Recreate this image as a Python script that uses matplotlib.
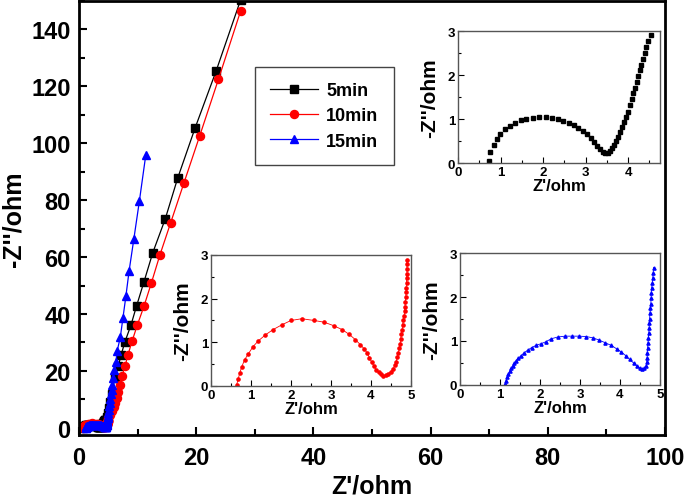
import matplotlib
matplotlib.use("Agg")
from matplotlib import pyplot as plt
from matplotlib.ticker import MultipleLocator

plt.rcParams['font.family'] = ['Liberation Sans', 'DejaVu Sans']
plt.rcParams['font.weight'] = 'bold'
plt.rcParams['axes.labelweight'] = 'bold'

# 5 min: Z' (ohm), -Z'' (ohm)
z_re_5 = [0.72, 0.76, 0.84, 0.92, 0.98, 1.10, 1.22, 1.34, 1.47, 1.61, 1.76, 1.91, 2.06, 2.20,
          2.34, 2.48, 2.61, 2.72, 2.83, 2.94, 3.03, 3.13, 3.20, 3.28, 3.35, 3.40, 3.46, 3.52,
          3.58, 3.63, 3.67, 3.71, 3.76, 3.80, 3.85, 3.90, 3.94, 3.99, 4.04, 4.08, 4.12, 4.16,
          4.20, 4.24, 4.28, 4.31, 4.35, 4.39, 4.43, 4.47, 4.53,
          4.70, 4.90, 5.10, 5.35, 5.60, 6.10, 6.70, 7.20, 7.85, 8.85, 9.85, 11.1, 12.6, 14.7,
          16.85, 19.8, 23.4, 27.6]
z_im_5 = [0.05, 0.25, 0.40, 0.55, 0.67, 0.77, 0.84, 0.92, 0.97, 1.01, 1.03, 1.04, 1.04, 1.02,
          0.99, 0.95, 0.91, 0.86, 0.80, 0.73, 0.65, 0.57, 0.48, 0.39, 0.31, 0.25, 0.23, 0.23,
          0.27, 0.33, 0.40, 0.49, 0.60, 0.70, 0.82, 0.93, 1.05, 1.17, 1.31, 1.45, 1.58, 1.70,
          1.84, 1.97, 2.11, 2.23, 2.37, 2.50, 2.63, 2.77, 2.91,
          3.9, 5.3, 7.0, 9.2, 12.0, 17.5, 21.7, 25.7, 30.3, 36.0, 43.0, 51.4, 61.6, 73.3,
          87.8, 105.3, 125.4, 150.5]

# 10 min
z_re_10 = [0.64, 0.68, 0.72, 0.77, 0.84, 0.93, 1.05, 1.18, 1.36, 1.55, 1.77, 2.00, 2.27, 2.58,
           2.83, 3.07, 3.28, 3.46, 3.61, 3.73, 3.83, 3.91, 3.96, 4.02, 4.08, 4.13, 4.19, 4.25,
           4.31, 4.37, 4.43, 4.50, 4.56, 4.60, 4.63, 4.66, 4.68, 4.71, 4.73, 4.74, 4.76, 4.78,
           4.79, 4.81, 4.83, 4.84, 4.85, 4.86, 4.87, 4.88, 4.88, 4.89, 4.89, 4.90, 4.90, 4.90,
           4.90,
           5.00, 5.30, 5.60, 5.90, 6.20, 6.45, 6.70, 6.95, 7.30, 7.85, 8.35, 9.05, 9.95, 11.1,
           12.35, 13.8, 15.65, 17.9, 20.6, 23.8, 27.6]
z_im_10 = [0.02, 0.16, 0.30, 0.44, 0.60, 0.73, 0.90, 1.03, 1.17, 1.29, 1.40, 1.50, 1.54, 1.50,
           1.46, 1.38, 1.29, 1.18, 1.06, 0.95, 0.85, 0.75, 0.65, 0.54, 0.45, 0.37, 0.31, 0.27,
           0.24, 0.25, 0.28, 0.33, 0.40, 0.49, 0.56, 0.66, 0.76, 0.86, 0.97, 1.08, 1.18, 1.29,
           1.40, 1.50, 1.61, 1.72, 1.82, 1.93, 2.04, 2.15, 2.25, 2.36, 2.47, 2.57, 2.68, 2.79,
           2.89,
           3.6, 4.6, 5.8, 7.2, 8.8, 10.6, 12.6, 15.0, 18.1, 21.6, 25.6, 30.4, 36.1, 42.8,
           50.9, 60.7, 72.1, 86.0, 102.6, 122.5, 146.6]

# 15 min
z_re_15 = [1.13, 1.15, 1.18, 1.21, 1.24, 1.28, 1.32, 1.36, 1.40, 1.46, 1.53, 1.60, 1.69, 1.79,
           1.90, 2.03, 2.14, 2.28, 2.44, 2.63, 2.81, 2.98, 3.16, 3.33, 3.48, 3.63, 3.78, 3.92,
           4.03, 4.14, 4.24, 4.34, 4.43, 4.50, 4.56, 4.61, 4.65, 4.67, 4.68, 4.68, 4.69, 4.70,
           4.71, 4.72, 4.73, 4.73, 4.74, 4.75, 4.76, 4.77, 4.78, 4.78, 4.79, 4.81, 4.82, 4.83,
           4.84,
           4.88, 4.93, 5.00, 5.07, 5.15, 5.25, 5.35, 5.45, 5.55, 5.65, 5.80, 6.05, 6.30, 6.50,
           7.05, 7.50, 8.00, 8.55, 9.35, 10.3, 11.4]
z_im_15 = [0.02, 0.10, 0.18, 0.24, 0.31, 0.38, 0.44, 0.50, 0.55, 0.61, 0.67, 0.73, 0.79, 0.85,
           0.90, 0.94, 0.98, 1.05, 1.09, 1.11, 1.11, 1.11, 1.10, 1.07, 1.02, 0.96, 0.90, 0.82,
           0.75, 0.67, 0.58, 0.50, 0.43, 0.38, 0.37, 0.38, 0.43, 0.52, 0.62, 0.73, 0.84, 0.95,
           1.07, 1.18, 1.30, 1.40, 1.51, 1.63, 1.74, 1.85, 1.97, 2.08, 2.20, 2.31, 2.43, 2.54,
           2.67,
           3.4, 4.3, 5.3, 6.4, 7.6, 8.9, 10.3, 11.8, 13.4, 15.2, 17.5, 20.2, 23.0, 26.9,
           31.8, 38.6, 46.2, 55.1, 66.2, 79.6, 95.9]

labels = ['5min', '10min', '15min']
colors = ['black', '#ff0000', '#0000ff']
markers = ['s', 'o', '^']
series = [(z_re_5, z_im_5), (z_re_10, z_im_10), (z_re_15, z_im_15)]

fig = plt.figure(figsize=(6.85, 5.02), dpi=100)
ax = fig.add_axes([0.1153, 0.1315, 0.8555, 0.8645])

for (x, y), c, m, lab in zip(series, colors, markers, labels):
    ax.plot(x, y, color=c, marker=m, markersize=5.8, lw=0.9, label=lab)

ax.set_xlim(0, 100)
ax.set_ylim(-2.5, 150)
ax.xaxis.set_major_locator(MultipleLocator(20))
ax.xaxis.set_minor_locator(MultipleLocator(10))
ax.yaxis.set_major_locator(MultipleLocator(20))
ax.yaxis.set_minor_locator(MultipleLocator(10))
ax.tick_params(which='both', direction='in', width=1.5, labelsize=17)
ax.tick_params(which='major', length=6)
ax.tick_params(which='minor', length=4)
ax.tick_params(axis='x', pad=8)
ax.tick_params(axis='y', pad=6)
for s in ax.spines.values():
    s.set_linewidth(2)
ax.set_xlabel("Z'/ohm", fontsize=18, labelpad=3)
ax.set_ylabel("-Z''/ohm", fontsize=18)
ax.yaxis.set_label_coords(-0.092, 0.5)

leg = ax.legend(loc='upper left', bbox_to_anchor=(0.3003, 0.848), fontsize=13,
                handlelength=2.65, fancybox=False, edgecolor='#444444', framealpha=1,
                borderpad=0.85, labelspacing=0.45, handletextpad=0.45, borderaxespad=0)
leg.get_frame().set_linewidth(1.0)
for t in leg.get_texts():
    t.set_fontweight('bold')

# insets: zoom on the high-frequency semicircles
inset_pos = [[0.6686, 0.6733, 0.2949, 0.2629],
             [0.3080, 0.2291, 0.2920, 0.2610],
             [0.6715, 0.2311, 0.2920, 0.2629]]
inset_xmax = [4.75, 5, 5]
inset_lw = [0, 0.6, 0.6]
for (x, y), c, m, pos, xm, lw in zip(series, colors, markers, inset_pos, inset_xmax, inset_lw):
    ia = fig.add_axes(pos)
    xs = [a for a, b in zip(x, y) if b <= 3]
    ys = [b for b in y if b <= 3]
    ia.plot(xs, ys, color=c, marker=m, markersize=2.3, lw=lw)
    ia.set_xlim(0, xm)
    ia.set_ylim(0, 3)
    ia.xaxis.set_major_locator(MultipleLocator(1))
    ia.xaxis.set_minor_locator(MultipleLocator(0.5))
    ia.yaxis.set_major_locator(MultipleLocator(1))
    ia.yaxis.set_minor_locator(MultipleLocator(0.5))
    ia.tick_params(which='both', direction='in', width=0.8, labelsize=9.5, pad=2)
    ia.tick_params(which='major', length=4)
    ia.tick_params(which='minor', length=2.5)
    for s in ia.spines.values():
        s.set_linewidth(1.0)
        s.set_color('#555555')
    ia.set_xlabel("Z'/ohm", fontsize=12, labelpad=0)
    ia.set_ylabel("-Z''/ohm", fontsize=15, labelpad=6)

fig.savefig('out.png', dpi=100)
